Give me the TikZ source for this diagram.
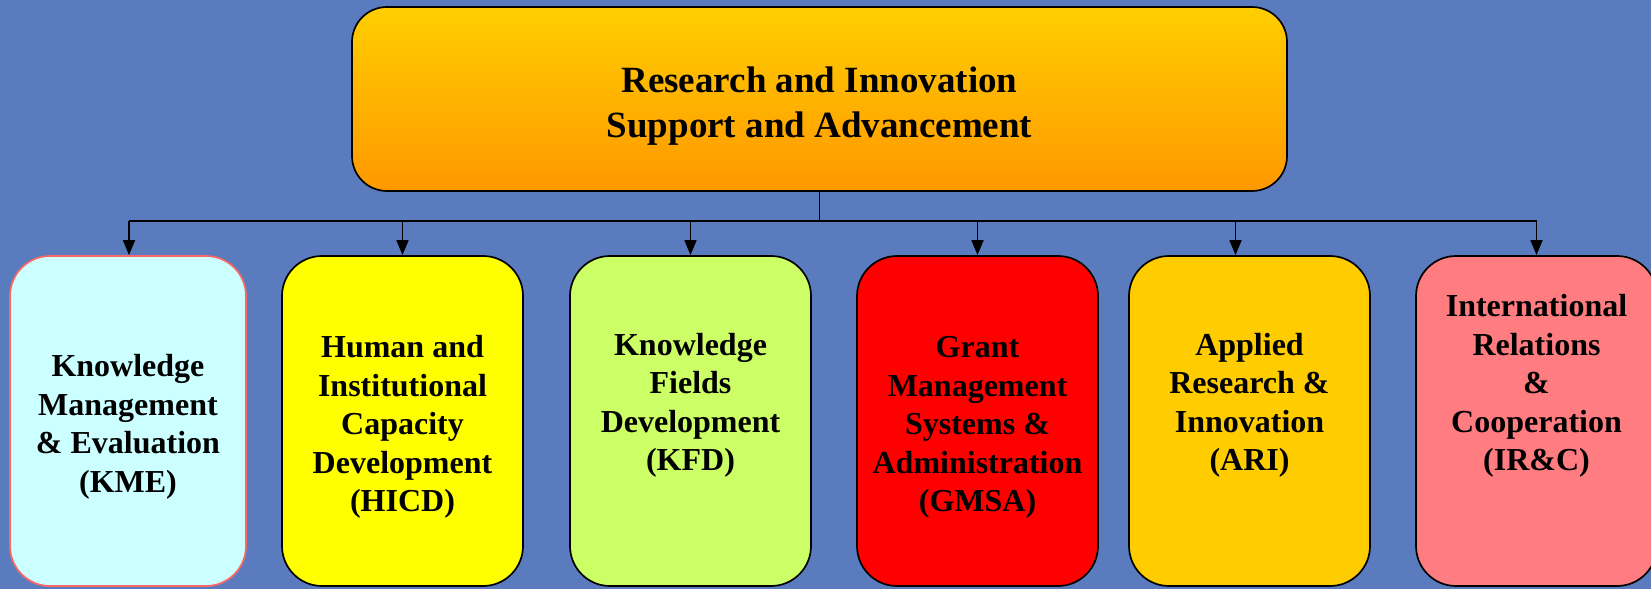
\documentclass[tikz,border=0pt]{standalone}
\usepackage{fontspec}
\setmainfont{Liberation Serif}
\usetikzlibrary{arrows.meta,calc}
\definecolor{bg}{RGB}{90,124,190}
\definecolor{topY}{RGB}{255,206,0}
\definecolor{topO}{RGB}{255,152,0}
\definecolor{kmefill}{RGB}{204,255,255}
\definecolor{kmeline}{RGB}{255,102,102}
\definecolor{hicdfill}{RGB}{255,255,0}
\definecolor{kfdfill}{RGB}{204,255,102}
\definecolor{gmsafill}{RGB}{255,0,0}
\definecolor{arifill}{RGB}{255,204,0}
\definecolor{ircfill}{RGB}{255,124,128}
\newcommand{\dnfirst}{\rule{0pt}{34pt}}
\newcommand{\dntop}{\rule{0pt}{39pt}}
\begin{document}
\begin{tikzpicture}[x=1pt,y=-1pt,
  unit/.style={draw=black, line width=1.7pt, rounded corners=40pt,
    minimum width=241pt, minimum height=330pt, inner sep=0pt, align=center,
    font=\fontsize{32}{38.5}\selectfont\bfseries, text=black},
  conn/.style={line width=1.7pt, draw=black},
  arr/.style={conn, -{Triangle[length=15pt,width=12pt]}}]
\fill[bg] (0,0) rectangle (1651,589);
\useasboundingbox (0,0) rectangle (1651,589);
\node[draw=black, line width=1.7pt, rounded corners=35pt, top color=topY, bottom color=topO,
  minimum width=935pt, minimum height=184pt, inner sep=0pt, align=center,
  font=\fontsize{37}{45}\selectfont\bfseries] (top) at (819.5,99)
  {\dntop Research and Innovation\\Support and Advancement};
\node[unit, fill=kmefill, draw=kmeline, minimum width=236pt] (kme) at (128,421)
  {\dnfirst Knowledge\\Management\\\& Evaluation\\(KME)};
\node[unit, fill=hicdfill] (hicd) at (402.5,421)
  {\dnfirst Human and\\Institutional\\Capacity\\Development\\(HICD)};
\node[unit, fill=kfdfill] (kfd) at (690.5,421)
  {\dnfirst Knowledge\\Fields\\Development\\(KFD)\\\strut};
\node[unit, fill=gmsafill] (gmsa) at (977.5,421)
  {\dnfirst Grant\\Management\\Systems \&\\Administration\\(GMSA)};
\node[unit, fill=arifill] (ari) at (1249.5,421)
  {\dnfirst Applied\\Research \&\\Innovation\\(ARI)\\\strut};
\node[unit, fill=ircfill] (irc) at (1536.5,421)
  {\dnfirst International\\Relations\\\&\\Cooperation\\(IR\&C)\\\strut\\\strut};
\coordinate (busL) at ($(kme.north)+(1,-34)$);
\coordinate (busR) at (irc.north |- busL);
\coordinate (ariIn) at ($(ari.north)+(-14,0)$);
\draw[conn] (top.south) -- (top.south |- busL);
\draw[conn] (busL) -- (busR);
\draw[arr] (busL) -- (busL |- kme.north);
\draw[arr] (hicd.north |- busL) -- (hicd.north);
\draw[arr] (kfd.north |- busL) -- (kfd.north);
\draw[arr] (gmsa.north |- busL) -- (gmsa.north);
\draw[arr] (ariIn |- busL) -- (ariIn);
\draw[arr] (busR) -- (irc.north);
\end{tikzpicture}
\end{document}
